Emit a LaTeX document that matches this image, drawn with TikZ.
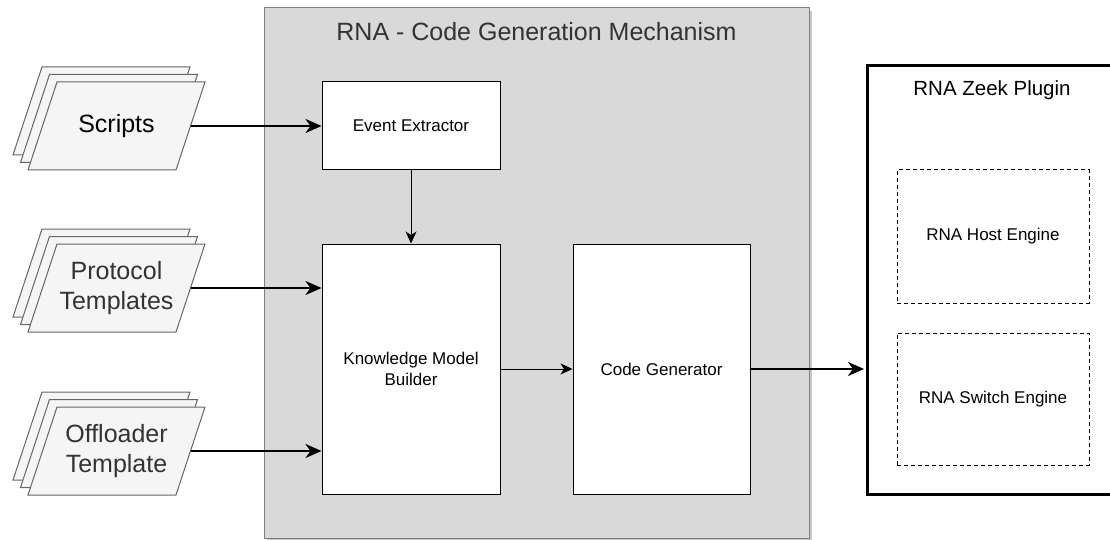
\documentclass[tikz,border=0pt]{standalone}
\usepackage{fontspec}
\setmainfont{Liberation Sans}
\usetikzlibrary{arrows.meta,shadows}

\definecolor{panelfill}{HTML}{D9D9D9}
\definecolor{paneledge}{HTML}{808080}
\definecolor{sheetfill}{HTML}{F5F5F5}
\definecolor{sheetedge}{HTML}{666666}
\definecolor{softtext}{HTML}{333333}

\tikzset{
  panel/.style={draw=paneledge, fill=panelfill, line width=1pt,
    drop shadow={shadow xshift=3pt, shadow yshift=-3pt, fill=black, opacity=0.22}},
  stagebox/.style={draw=black, fill=white, line width=1pt, inner sep=0pt,
    align=center, font=\fontsize{17}{20.4}\selectfont},
  pluginbox/.style={draw=black, fill=white, line width=3pt, inner sep=0pt},
  enginebox/.style={draw=black, dash pattern=on 4pt off 3pt, line width=1pt,
    inner sep=0pt, align=center, font=\fontsize{17}{20.4}\selectfont},
  sheet/.style={draw=sheetedge, fill=sheetfill, line width=1pt, line join=miter},
  sheettext/.style={align=center, inner sep=0pt, font=\fontsize{25}{29.5}\selectfont},
  heavyflow/.style={line width=2.4pt, -{Stealth[length=16pt, width=14pt, inset=5pt]}},
  lightflow/.style={line width=0.9pt, -{Stealth[length=12pt, width=11pt, inset=3.5pt]}},
  % a stack of three slanted sheets, drawn back to front
  sheets/.pic={
    \foreach \d in {15,7.5,0}{
      \draw[sheet] (-59.5-\d,-44-\d) -- (88.5-\d,-44-\d) -- (59.5-\d,44-\d)
        -- (-88.5-\d,44-\d) -- cycle;
    }
  }
}

\begin{document}
\begin{tikzpicture}[x=1pt, y=-1pt]
  \useasboundingbox (0,0) rectangle (1110,540);

  % generator panel
  \node[panel, minimum width=545pt, minimum height=530pt, inner sep=0pt]
    (gen) at (536.5,273) {};
  \node[text=softtext, font=\fontsize{25}{30}\selectfont] (gentitle)
    at (536.5,32) {RNA - Code Generation Mechanism};

  % inputs
  \pic at (116.5,126) {sheets};
  \node[sheettext] (scripts) at (116.5,126) {Scripts};
  \pic at (116.5,288) {sheets};
  \node[sheettext, text=softtext] (protocol) at (116.5,288) {Protocol\\Templates};
  \pic at (116.5,451) {sheets};
  \node[sheettext, text=softtext] (offloader) at (116.5,451) {Offloader\\Template};

  \coordinate (scripts-out) at ([xshift=74pt]scripts.center);
  \coordinate (protocol-out) at (190.5,288);
  \coordinate (offloader-out) at (190.5,451);

  % generation stages
  \node[stagebox, minimum width=178pt, minimum height=88pt] (ee) at (411,126) {Event Extractor};
  \node[stagebox, minimum width=178pt, minimum height=250pt] (kmb) at (411,369) {Knowledge Model\\Builder};
  \node[stagebox, minimum width=177pt, minimum height=250pt] (cg) at (661.5,369) {Code Generator};

  % plugin
  \node[pluginbox, minimum width=250pt, minimum height=428pt] (zeek) at (992,280) {};
  \node[font=\fontsize{20.5}{24}\selectfont] (zeektitle) at (992,90) {RNA Zeek Plugin};
  \node[enginebox, minimum width=192pt, minimum height=133pt] (host) at (993,236.5) {RNA Host Engine};
  \node[enginebox, minimum width=192pt, minimum height=132pt] (switch) at (993,399) {RNA Switch Engine};

  % connectors
  \draw[heavyflow] (scripts-out) -- (ee.west);
  \draw[heavyflow] (protocol-out) -- (protocol-out -| kmb.west);
  \draw[heavyflow] (offloader-out) -- (offloader-out -| kmb.west);
  \draw[lightflow] (ee.south) -- (kmb.north);
  \draw[lightflow] (kmb.east) -- (cg.west);
  \draw[heavyflow] (cg.east) -- ([xshift=-1.5pt]cg.east -| zeek.west);
\end{tikzpicture}
\end{document}
